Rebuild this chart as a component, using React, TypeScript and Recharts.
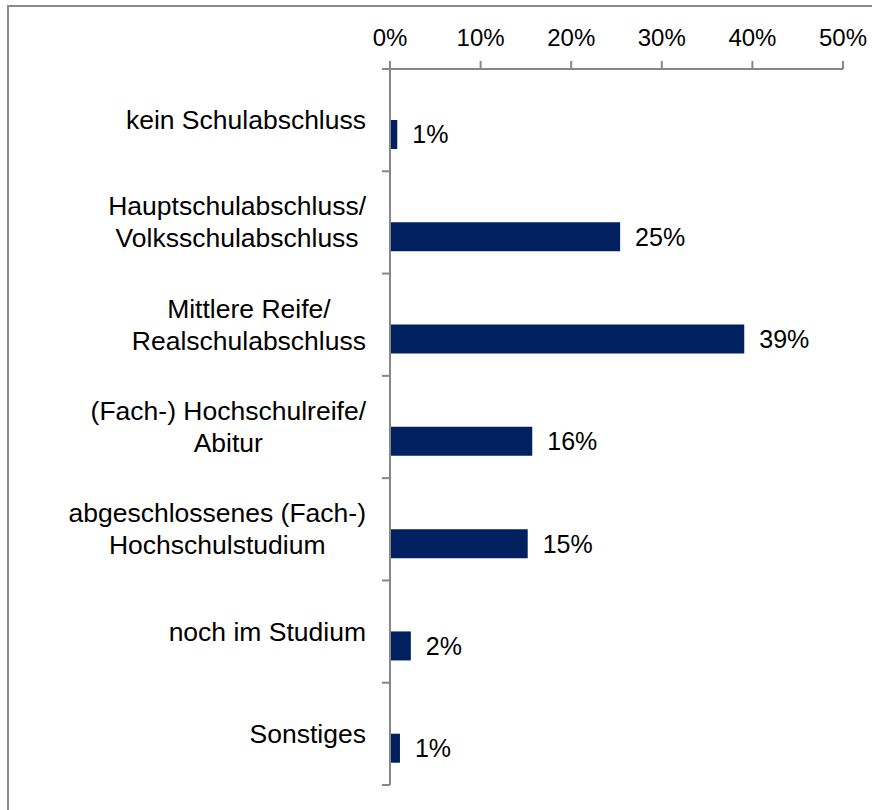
import { BarChart, Bar, XAxis, YAxis, LabelList } from "recharts";

const categories = [
  "kein Schulabschluss",
  "Hauptschulabschluss/\nVolksschulabschluss",
  "Mittlere Reife/\nRealschulabschluss",
  "(Fach-) Hochschulreife/\nAbitur",
  "abgeschlossenes (Fach-)\nHochschulstudium",
  "noch im Studium",
  "Sonstiges",
];
const shares = [0.8, 25.4, 39.1, 15.7, 15.2, 2.3, 1.1];
const xTicks = [0, 10, 20, 30, 40, 50];

const data = categories.map((name, i) => ({ name, share: shares[i] }));

const FONT = "'Liberation Sans', Arial, sans-serif";
const AXIS_COLOR = "#878787";
const PLOT_TOP = 69;
const PLOT_BOTTOM = 785;
const AXIS_X = 390;
const LABEL_RIGHT = 366;
const LABEL_SIZE = 26.5;
const LINE_GAP = 32;

let ctx: CanvasRenderingContext2D | null = null;
function textWidth(s: string) {
  if (!ctx) ctx = document.createElement("canvas").getContext("2d");
  if (!ctx) return s.length * 13;
  ctx.font = `${LABEL_SIZE}px 'Liberation Sans', Arial`;
  return ctx.measureText(s).width;
}

function CategoryTick(props: any) {
  const { y, payload, index } = props;
  const band = (PLOT_BOTTOM - PLOT_TOP) / categories.length;
  const lines = String(payload.value).split("\n");
  const maxW = Math.max(...lines.map(textWidth));
  const cx = LABEL_RIGHT - maxW / 2;
  const first = y - ((lines.length - 1) * LINE_GAP) / 2 + 9;
  return (
    <g>
      <line x1={AXIS_X - 8} x2={AXIS_X} y1={y - band / 2} y2={y - band / 2} stroke={AXIS_COLOR} strokeWidth={2} />
      {index === categories.length - 1 && (
        <line x1={AXIS_X - 8} x2={AXIS_X} y1={y + band / 2} y2={y + band / 2} stroke={AXIS_COLOR} strokeWidth={2} />
      )}
      <text textAnchor="middle" fontFamily={FONT} fontSize={LABEL_SIZE} fill="#000">
        {lines.map((l, i) => (
          <tspan key={i} x={cx} y={first + i * LINE_GAP}>
            {l}
          </tspan>
        ))}
      </text>
    </g>
  );
}

function PercentTick(props: any) {
  const { x, y, payload } = props;
  return (
    <text x={x} y={y} textAnchor="middle" fontFamily={FONT} fontSize={24} fill="#000">
      {payload.value}%
    </text>
  );
}

export default function App() {
  return (
    <div style={{ position: "absolute", left: 0, top: 0, width: 872, height: 810, background: "#fff" }}>
      <div
        style={{
          position: "absolute",
          left: 7,
          top: 5,
          width: 865,
          height: 805,
          boxSizing: "border-box",
          borderLeft: "2px solid #8a8a8a",
          borderTop: "2px solid #8a8a8a",
        }}
      />
      <div style={{ position: "absolute", left: 0, top: 0 }}>
        <BarChart
          width={872}
          height={810}
          data={data}
          layout="vertical"
          margin={{ top: 0, right: 29, bottom: 25, left: 0 }}
          barSize={29}
          barGap={0}
        >
          <XAxis
            type="number"
            orientation="top"
            domain={[0, 50]}
            ticks={xTicks}
            height={69}
            stroke={AXIS_COLOR}
            strokeWidth={2}
            tickSize={8}
            tickMargin={15}
            tick={<PercentTick />}
          />
          <YAxis
            type="category"
            dataKey="name"
            width={390}
            stroke={AXIS_COLOR}
            strokeWidth={2}
            tickLine={false}
            tickSize={0}
            interval={0}
            tick={<CategoryTick />}
          />
          <Bar dataKey="spacer" fill="none" isAnimationActive={false} />
          <Bar dataKey="share" fill="#002060" isAnimationActive={false}>
            <LabelList
              dataKey="share"
              position="right"
              offset={15}
              formatter={(v: any) => `${Math.round(Number(v))}%`}
              style={{ fontFamily: FONT, fontSize: 25, fill: "#000" }}
            />
          </Bar>
        </BarChart>
      </div>
    </div>
  );
}
